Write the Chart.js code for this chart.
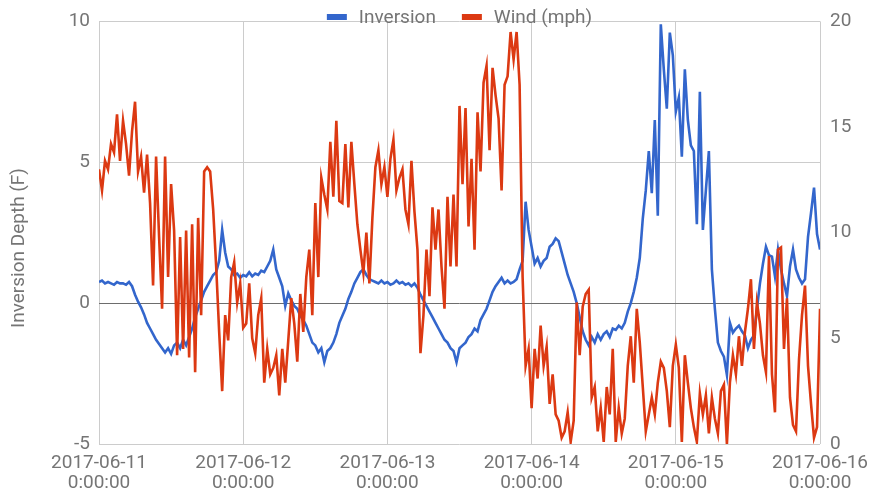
<!DOCTYPE html>
<html>
<head>
<meta charset="utf-8">
<script src="https://cdn.jsdelivr.net/npm/chart.js@4.4.1/dist/chart.umd.min.js"></script>
<style>
  html, body { margin: 0; padding: 0; background: #fff; }
  #wrap { width: 878px; height: 495px; }
</style>
</head>
<body>
<div id="wrap"><canvas id="chart" width="878" height="495"></canvas></div>
<script>
// readings every half hour, starting 2017-06-11 0:00:00
const STEP_HOURS = 0.5;
const dayLabels = ['2017-06-11', '2017-06-12', '2017-06-13', '2017-06-14', '2017-06-15', '2017-06-16'];
const timeLabel = '0:00:00';
const seriesNames = ['Inversion', 'Wind (mph)'];
const leftAxisTitle = 'Inversion Depth (F)';

// inversion depth (F), one row = 5 hours
const inversionValues = [
  0.75, 0.8, 0.7, 0.75, 0.7, 0.65, 0.75, 0.7, 0.7, 0.65,
  0.75, 0.6, 0.3, 0.05, -0.15, -0.4, -0.7, -0.9, -1.1, -1.3,
  -1.45, -1.6, -1.75, -1.6, -1.8, -1.5, -1.4, -1.6, -1.3, -1.5,
  -1.2, -0.9, -0.5, -0.2, 0.1, 0.4, 0.6, 0.8, 1.0, 1.1,
  1.5, 2.6, 1.8, 1.3, 1.2, 1.0, 1.05, 0.9, 1.0, 0.95,
  1.1, 0.95, 1.05, 1.0, 1.15, 1.1, 1.3, 1.5, 1.9, 1.2,
  0.9, 0.6, -0.1, 0.35, 0.1, -0.1, -0.2, -0.45, -0.6, -0.8,
  -1.1, -1.4, -1.5, -1.75, -1.6, -2.1, -1.7, -1.6, -1.4, -1.1,
  -0.7, -0.45, -0.2, 0.15, 0.4, 0.7, 0.9, 1.1, 1.2, 1.0,
  0.85, 0.8, 0.75, 0.7, 0.8, 0.7, 0.75, 0.65, 0.7, 0.8,
  0.7, 0.75, 0.65, 0.7, 0.6, 0.7, 0.55, 0.3, 0.1, -0.1,
  -0.3, -0.5, -0.7, -0.9, -1.1, -1.3, -1.4, -1.6, -1.7, -2.1,
  -1.6, -1.5, -1.4, -1.2, -1.1, -0.9, -1.0, -0.6, -0.4, -0.2,
  0.1, 0.4, 0.6, 0.75, 0.9, 0.7, 0.8, 0.7, 0.75, 0.85,
  1.2, 1.5, 3.6, 2.6, 2.0, 1.4, 1.6, 1.3, 1.5, 1.6,
  2.0, 2.1, 2.3, 2.2, 1.8, 1.4, 1.0, 0.7, 0.4, 0.0,
  -0.5, -1.0, -1.3, -1.5, -1.2, -1.4, -1.1, -1.3, -1.1, -1.0,
  -1.2, -0.9, -0.95, -0.8, -0.9, -0.7, -0.3, 0.0, 0.4, 0.9,
  1.6, 3.0, 4.0, 5.4, 3.9, 6.5, 3.1, 9.9, 8.3, 6.9,
  9.6, 8.8, 6.8, 7.3, 5.2, 8.3, 6.5, 5.6, 5.4, 2.8,
  7.5, 2.6, 4.0, 5.4, 1.2, -0.2, -1.4, -1.7, -1.9, -2.55,
  -0.7, -1.05, -0.9, -0.8, -1.0, -1.15, -1.6, -1.3, -1.15, -0.2,
  0.7, 1.4, 2.0, 1.7, 1.65, 0.95, 1.9, 1.2, 0.7, 0.25,
  1.3, 1.9, 1.2, 0.9, 0.7, 0.85, 2.35, 3.2, 4.1, 2.45,
  1.9
];

// wind speed (mph), one row = 5 hours
const windValues = [
  13.0, 12.0, 13.4, 13.0, 14.2, 13.8, 15.6, 13.4, 15.3, 14.2,
  12.7, 14.8, 16.2, 12.9, 13.6, 11.9, 13.7, 11.4, 7.5, 13.6,
  9.8, 6.4, 13.6, 7.9, 12.3, 10.1, 4.2, 9.8, 4.5, 10.1,
  4.1, 10.4, 3.4, 10.7, 6.1, 12.9, 13.1, 12.9, 11.1, 8.4,
  5.3, 2.5, 6.1, 4.9, 7.9, 8.6, 6.7, 7.6, 5.5, 5.7,
  7.6, 5.0, 4.3, 6.1, 6.9, 2.9, 4.5, 3.3, 3.6, 4.2,
  2.3, 4.5, 2.9, 4.9, 6.9, 5.7, 3.9, 7.1, 5.3, 7.9,
  9.2, 6.1, 11.4, 7.9, 12.6, 11.8, 11.1, 14.3, 11.7, 15.3,
  11.5, 11.4, 14.2, 11.2, 14.3, 12.3, 10.4, 9.2, 8.1, 10.0,
  7.6, 10.7, 13.1, 13.9, 12.3, 13.1, 11.7, 13.5, 14.4, 12.0,
  12.6, 13.0, 11.1, 10.4, 13.4, 11.0, 9.2, 4.3, 6.1, 9.2,
  7.0, 11.2, 9.2, 11.1, 8.4, 6.4, 11.7, 8.4, 11.8, 8.4,
  16.0, 12.3, 15.9, 10.3, 13.5, 9.2, 15.7, 12.9, 17.1, 17.9,
  13.9, 17.8, 16.5, 15.4, 12.0, 17.0, 17.4, 19.5, 18.2, 19.5,
  17.0, 7.9, 3.7, 4.5, 1.7, 4.5, 3.1, 5.6, 3.7, 4.6,
  1.9, 3.3, 1.4, 1.1, 0.3, 0.6, 1.5, 0.1, 1.1, 6.7,
  4.2, 6.5, 7.1, 7.3, 2.2, 2.7, 0.6, 1.7, 0.1, 2.7,
  1.4, 4.5, 0.1, 1.7, 0.5, 1.2, 3.7, 5.1, 2.9, 6.4,
  4.8, 2.7, 0.6, 1.4, 2.2, 1.4, 2.9, 3.9, 3.6, 2.5,
  0.8, 3.7, 4.7, 3.6, 0.1, 4.2, 2.9, 1.7, 0.8, 0.1,
  2.4, 1.4, 2.3, 0.5, 2.2, 1.2, 0.5, 2.5, 2.8, 0.0,
  2.9, 4.2, 3.3, 5.1, 3.7, 5.3, 6.4, 7.8, 4.5, 6.7,
  5.7, 4.2, 3.4, 8.9, 3.3, 1.5, 9.2, 9.3, 4.5, 6.9,
  2.2, 0.9, 0.6, 4.0, 6.1, 7.5, 3.7, 1.9, 0.3, 0.8,
  6.4
];

const inversionTicks = [-5, 0, 5, 10];
const windTicks = [0, 5, 10, 15, 20];

const TEXT_GREY = '#757575';
const GRID_GREY = '#cccccc';

Chart.defaults.font.family = 'Roboto';
Chart.defaults.font.size = 19;
Chart.defaults.color = TEXT_GREY;

// legend on the top edge of the plot + rotated left axis title
const googleDecor = {
    id: 'googleDecor',
    afterDraw(chart) {
        const { ctx, chartArea } = chart;
        ctx.save();
        ctx.font = '19px Roboto';
        ctx.textBaseline = 'middle';
        const items = chart.data.datasets.map(ds => ({
            text: ds.label,
            color: ds.borderColor,
            w: ctx.measureText(ds.label).width
        }));
        const swatch = 20, gap = 12, between = 26;
        const total = items.reduce((s, it) => s + swatch + gap + it.w, 0) + between * (items.length - 1);
        let x = (chartArea.left + chartArea.right) / 2 - total / 2;
        const y = 17;
        items.forEach(it => {
            ctx.fillStyle = it.color;
            ctx.fillRect(x, y - 3, swatch, 6);
            x += swatch + gap;
            ctx.fillStyle = TEXT_GREY;
            ctx.textAlign = 'left';
            ctx.fillText(it.text, x, y + 1);
            x += it.w + between;
        });

        // axis title, a little below the plot's middle as in the original
        ctx.translate(19, 248);
        ctx.rotate(-Math.PI / 2);
        ctx.textAlign = 'center';
        ctx.fillStyle = TEXT_GREY;
        ctx.fillText(leftAxisTitle, 0, 0);
        ctx.restore();
    }
};

const toPoints = values => values.map((v, i) => ({ x: i * STEP_HOURS, y: v }));

new Chart(document.getElementById('chart'), {
    type: 'line',
    data: {
        datasets: [
            {
                label: seriesNames[0],
                data: toPoints(inversionValues),
                yAxisID: 'y',
                borderColor: '#3366cc',
                backgroundColor: '#3366cc',
                borderWidth: 2.6,
                pointRadius: 0,
                order: 1
            },
            {
                label: seriesNames[1],
                data: toPoints(windValues),
                yAxisID: 'y1',
                borderColor: '#dc3912',
                backgroundColor: '#dc3912',
                borderWidth: 2.6,
                pointRadius: 0,
                order: 0
            }
        ]
    },
    options: {
        responsive: false,
        animation: false,
        devicePixelRatio: 1,
        layout: { padding: { top: 16, left: 0, right: 0, bottom: 0 } },
        plugins: {
            legend: { display: false },
            tooltip: { enabled: false }
        },
        scales: {
            x: {
                type: 'linear',
                min: 0,
                max: (dayLabels.length - 1) * 24,
                afterFit: s => { s.height = 51; },
                afterBuildTicks: s => { s.ticks = dayLabels.map((d, i) => ({ value: i * 24 })); },
                ticks: {
                    autoSkip: false,
                    maxRotation: 0,
                    padding: 10,
                    font: { size: 19, lineHeight: 1.02 },
                    callback: v => [dayLabels[v / 24], timeLabel]
                },
                grid: { color: GRID_GREY, drawTicks: false },
                border: { display: false }
            },
            y: {
                position: 'left',
                min: -5,
                max: 10,
                afterFit: s => { s.width = 99; },
                afterBuildTicks: s => { s.ticks = inversionTicks.map(v => ({ value: v })); },
                ticks: { padding: 9 },
                grid: {
                    drawTicks: false,
                    color: c => (c.tick && c.tick.value === 0 ? '#6d6d6d' : GRID_GREY)
                },
                border: { display: false }
            },
            y1: {
                position: 'right',
                min: 0,
                max: 20,
                afterFit: s => { s.width = 55; },
                afterBuildTicks: s => { s.ticks = windTicks.map(v => ({ value: v })); },
                ticks: { padding: 10 },
                grid: { drawOnChartArea: false, drawTicks: false },
                border: { display: false }
            }
        }
    },
    plugins: [googleDecor]
});
</script>
</body>
</html>
